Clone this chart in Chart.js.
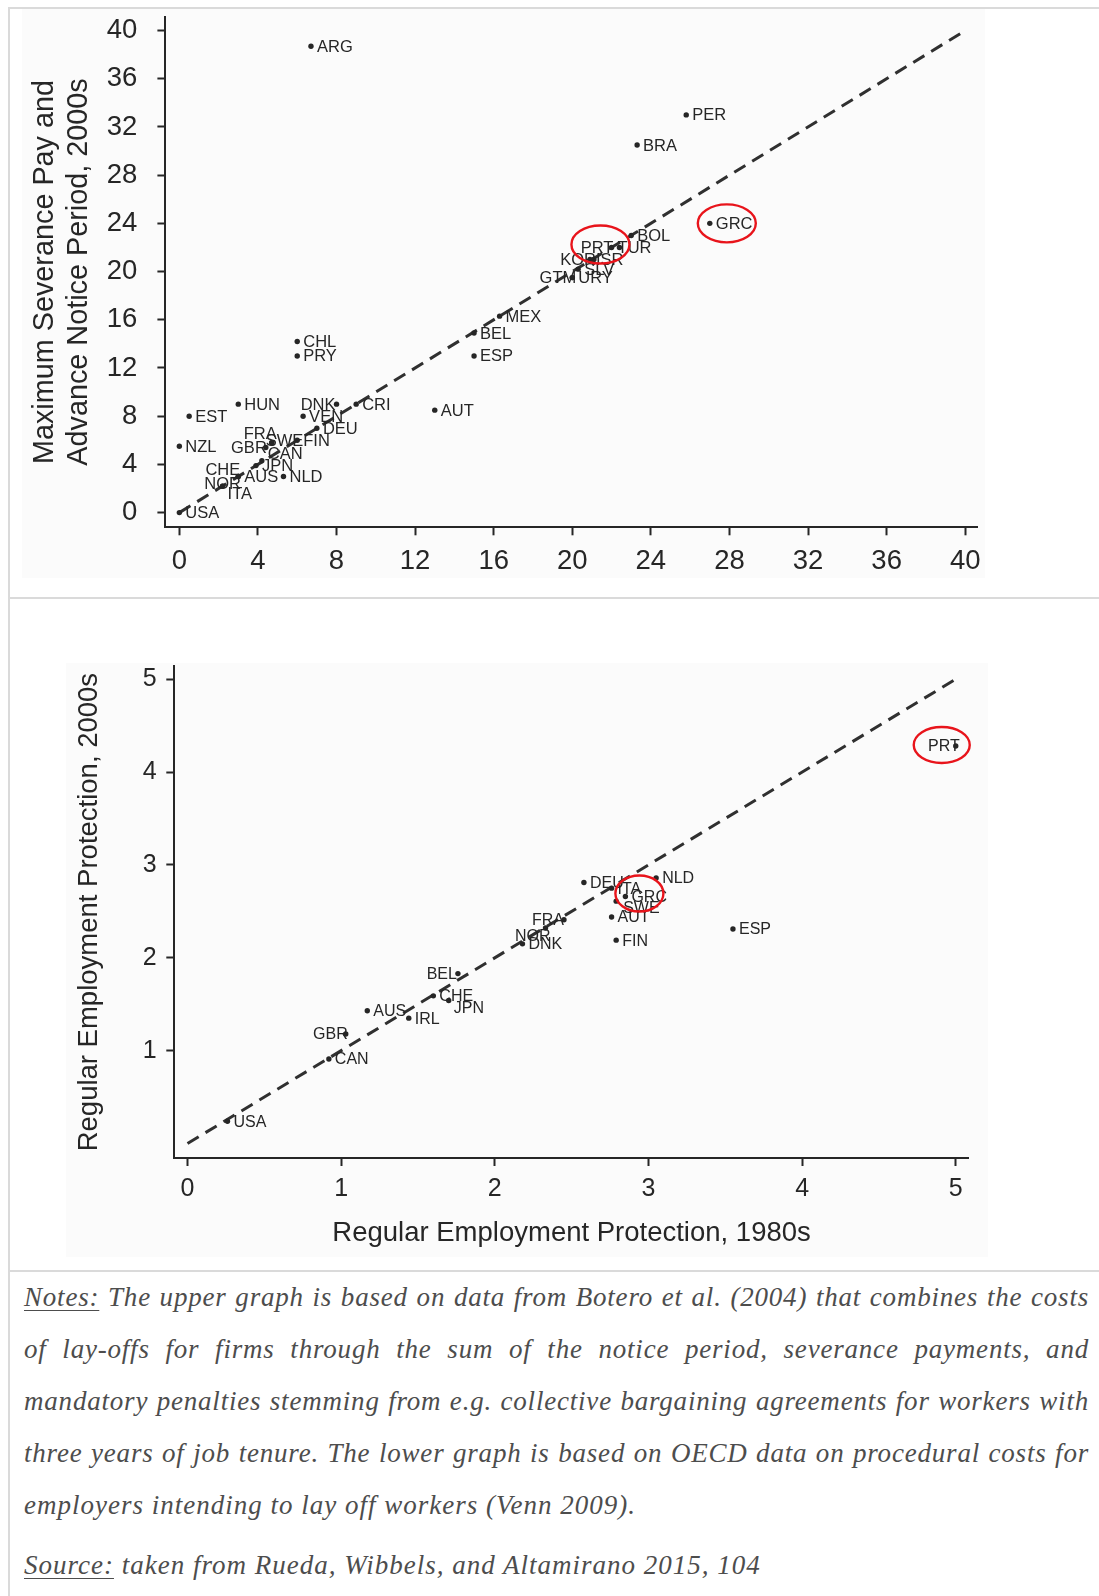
<!DOCTYPE html>
<html>
<head>
<meta charset="utf-8">
<title>Employment protection: 1980s vs 2000s</title>
<script src="https://cdn.jsdelivr.net/npm/chart.js@4.4.1/dist/chart.umd.min.js"></script>
<style>
  html, body { margin: 0; padding: 0; background: #ffffff; }
  body { width: 1099px; height: 1596px; position: relative; overflow: hidden; font-family: "Liberation Sans", Arial, sans-serif; }
  .rule { position: absolute; background: #dadada; }
  .panel { position: absolute; background: #fbfbfb; }
  canvas { position: absolute; left: 0; }
  .note { position: absolute; left: 24px; width: 1065px; height: 52px; line-height: 52px;
          font-family: "Liberation Serif", "Times New Roman", serif; font-style: italic; font-size: 27px;
          letter-spacing: 0.8px; color: #4d4d4d; text-align: justify; text-align-last: justify; white-space: nowrap; }
  .note.last { text-align-last: left; letter-spacing: 1px; }
  .note u { text-decoration-thickness: 1px; text-underline-offset: 4px; }
</style>
</head>
<body>
<div class="rule" style="left:8px; top:7px; width:1091px; height:2px;"></div>
<div class="rule" style="left:8px; top:7px; width:2px; height:1589px;"></div>
<div class="rule" style="left:8px; top:597px; width:1091px; height:2px;"></div>
<div class="rule" style="left:8px; top:1270px; width:1091px; height:2px;"></div>
<div class="panel" style="left:22px; top:9px; width:963px; height:569px;"></div>
<div class="panel" style="left:66px; top:663px; width:922px; height:594px;"></div>

<canvas id="upper" width="1099" height="598" style="top:0;"></canvas>
<canvas id="lower" width="1099" height="673" style="top:598px;"></canvas>

<div class="note" style="top:1271px;"><u>Notes:</u> The upper graph is based on data from Botero et al. (2004) that combines the costs</div>
<div class="note" style="top:1323px;">of lay-offs for firms through the sum of the notice period, severance payments, and</div>
<div class="note" style="top:1375px;">mandatory penalties stemming from e.g. collective bargaining agreements for workers with</div>
<div class="note" style="top:1427px;">three years of job tenure. The lower graph is based on OECD data on procedural costs for</div>
<div class="note last" style="top:1479px;">employers intending to lay off workers (Venn 2009).</div>
<div class="note last" style="top:1539px;"><u>Source:</u> taken from Rueda, Wibbels, and Altamirano 2015, 104</div>

<script>
// ---- Upper panel: maximum severance pay and advance notice period ----
const upperCountries = ['ARG','PER','BRA','GRC','BOL','PRT','TUR','KOR','ISR','SLV','GTM','URY',
  'MEX','BEL','ESP','CHL','PRY','HUN','EST','NZL','USA','DNK','CRI','VEN','DEU','AUT',
  'FIN','SWE','FRA','GBR','CAN','JPN','CHE','AUS','NOR','ITA','NLD'];
const upperX = [6.7, 25.8, 23.3, 27, 23, 22.4, 22, 21.1, 20.9, 20.3, 20, 20,
  16.3, 15, 15, 6, 6, 3, 0.5, 0, 0, 8, 9, 6.3, 7, 13,
  6, 4.7, 4.7, 4.4, 4.2, 3.9, 3, 3, 2.2, 2.2, 5.3];
const upperY = [38.7, 33, 30.5, 24, 23, 22, 22, 21, 21, 20.2, 19.5, 19.5,
  16.3, 14.9, 13, 14.2, 13, 9, 8, 5.5, 0, 9, 9, 8, 7, 8.5,
  6, 5.8, 5.8, 5.4, 4.3, 3.9, 3, 3, 2.2, 2.2, 3];
const upperTicks = [0, 4, 8, 12, 16, 20, 24, 28, 32, 36, 40];
const upperDiagonal = [0, 40];

// ---- Lower panel: OECD regular employment protection ----
const lowerCountries = ['USA','CAN','GBR','AUS','IRL','CHE','JPN','BEL','DNK','NOR','FRA',
  'DEU','ITA','GRC','SWE','AUT','FIN','NLD','ESP','PRT'];
const lower1980s = [0.26, 0.92, 1.03, 1.17, 1.44, 1.6, 1.7, 1.76, 2.18, 2.33, 2.45,
  2.58, 2.76, 2.85, 2.79, 2.76, 2.79, 3.05, 3.55, 5.0];
const lower2000s = [0.24, 0.91, 1.18, 1.43, 1.35, 1.59, 1.54, 1.83, 2.15, 2.32, 2.41,
  2.81, 2.75, 2.66, 2.61, 2.44, 2.19, 2.86, 2.31, 4.28];
const lowerXTicks = [0, 1, 2, 3, 4, 5];
const lowerYTicks = [1, 2, 3, 4, 5];
const lowerDiagonal = [0, 5];

// Where each country code sits relative to its marker (default: right of it)
const upperLabelSpots = {
  DNK: {dx: -1, dy: 0, align: 'right'}, GBR: {dx: 1, dy: 0, align: 'right'},
  PRT: {dx: -6, dy: 0, align: 'right'}, KOR: {dx: 2, dy: 0, align: 'right'},
  GTM: {dx: 4, dy: 0, align: 'right'},
  CHE: {dx: 2, dy: -7, align: 'right'}, FRA: {dx: 5, dy: -9, align: 'right'},
  SWE: {dx: -6, dy: -2, align: 'left'}, CAN: {dx: 6, dy: -7, align: 'left'},
  NOR: {dx: 0, dy: -3, align: 'center'}, ITA: {dx: 5, dy: 7, align: 'left'}
};
const lowerLabelSpots = {
  GBR: {dx: 2, dy: 0, align: 'right'}, BEL: {dx: -1, dy: 0, align: 'right'},
  FRA: {dx: 0, dy: 0, align: 'right'}, NOR: {dx: 5, dy: 8, align: 'right'},
  JPN: {dx: 5, dy: 7, align: 'left'}, SWE: {dx: 7, dy: 6, align: 'left'},
  PRT: {dx: 4, dy: 0, align: 'right'}
};
// Hand-drawn red rings highlighting Greece and Portugal
const upperRings = [{name: 'GRC', dx: 17, dy: 0, rx: 29, ry: 19}, {name: 'PRT', dx: -19, dy: -3, rx: 29, ry: 19}];
const lowerRings = [{name: 'GRC', dx: 14, dy: -3, rx: 24, ry: 18}, {name: 'PRT', dx: -14, dy: -1, rx: 28, ry: 18}];

const INK = '#262626';
const SANS = '"Liberation Sans", Arial, Helvetica, sans-serif';

const pointLabels = {
  id: 'pointLabels',
  afterDatasetsDraw(chart, args, opts) {
    const meta = chart.getDatasetMeta(opts.datasetIndex);
    const ctx = chart.ctx;
    ctx.save();
    ctx.font = opts.size + 'px ' + SANS;
    ctx.fillStyle = INK;
    ctx.textBaseline = 'middle';
    meta.data.forEach((pt, i) => {
      const name = opts.names[i];
      const spot = opts.spots[name] || {dx: 6, dy: 0, align: 'left'};
      ctx.textAlign = spot.align;
      ctx.fillText(name, pt.x + spot.dx, pt.y + spot.dy + 1);
    });
    ctx.restore();
  }
};

const rings = {
  id: 'rings',
  afterDraw(chart, args, opts) {
    const meta = chart.getDatasetMeta(opts.datasetIndex);
    const ctx = chart.ctx;
    ctx.save();
    ctx.strokeStyle = '#e8141b';
    ctx.lineWidth = 2.4;
    opts.marks.forEach(m => {
      const pt = meta.data[opts.names.indexOf(m.name)];
      ctx.beginPath();
      ctx.ellipse(pt.x + m.dx, pt.y + m.dy, m.rx, m.ry, 0, 0, Math.PI * 2);
      ctx.stroke();
    });
    ctx.restore();
  }
};

function fixedTicks(values) {
  return scale => { scale.ticks = values.map(v => ({value: v})); };
}

function axis(cfg) {
  return {
    type: 'linear',
    min: cfg.min, max: cfg.max,
    afterBuildTicks: fixedTicks(cfg.ticks),
    afterFit: scale => {
      if (cfg.width) scale.width = cfg.width;
      if (cfg.height) scale.height = cfg.height;
      // the plot box is set by the layout padding alone
      scale.paddingTop = scale.paddingBottom = scale.paddingLeft = scale.paddingRight = 0;
    },
    border: {display: true, color: INK, width: 2},
    grid: {drawOnChartArea: false, drawTicks: true, tickLength: 8, tickWidth: 2, tickColor: INK},
    ticks: {color: INK, font: {family: SANS, size: cfg.tickSize}, padding: cfg.pad, maxRotation: 0, autoSkip: false,
            callback: v => String(v)},
    title: cfg.title ? {display: true, text: cfg.title, color: INK,
            font: {family: SANS, size: cfg.titleSize, lineHeight: cfg.titleLH || 1.2},
            padding: cfg.titlePad} : {display: false}
  };
}

function diagonal(ends) {
  return {
    type: 'line',
    data: ends.map(v => ({x: v, y: v})),
    borderColor: '#303030', borderWidth: 3, borderDash: [13, 8],
    pointRadius: 0, fill: false, order: 2
  };
}

function scatter(names, xs, ys) {
  return {
    type: 'scatter',
    data: names.map((n, i) => ({x: xs[i], y: ys[i]})),
    pointRadius: 2.7, pointBackgroundColor: INK, pointBorderWidth: 0, order: 1
  };
}

new Chart(document.getElementById('upper'), {
  data: {datasets: [scatter(upperCountries, upperX, upperY), diagonal(upperDiagonal)]},
  plugins: [pointLabels, rings],
  options: {
    responsive: false, animation: false, devicePixelRatio: 1,
    layout: {padding: {left: 10, top: 16.7, right: 122, bottom: 10.7}},
    plugins: {
      legend: {display: false}, tooltip: {enabled: false},
      pointLabels: {datasetIndex: 0, names: upperCountries, spots: upperLabelSpots, size: 16.5},
      rings: {datasetIndex: 0, names: upperCountries, marks: upperRings}
    },
    scales: {
      x: axis({min: -0.71, max: 40.6, ticks: upperTicks, height: 60, tickSize: 27.5, pad: 10}),
      y: axis({min: -1.22, max: 41.15, ticks: upperTicks, width: 155.4, tickSize: 27.5, pad: 20,
               title: ['Maximum Severance Pay and', 'Advance Notice Period, 2000s'],
               titleSize: 28.8, titleLH: 1.2, titlePad: {top: 17.5, bottom: 0}})
    }
  }
});

new Chart(document.getElementById('lower'), {
  data: {datasets: [scatter(lowerCountries, lower1980s, lower2000s), diagonal(lowerDiagonal)]},
  plugins: [pointLabels, rings],
  options: {
    responsive: false, animation: false, devicePixelRatio: 1,
    layout: {padding: {left: 10, top: 68.2, right: 130.2, bottom: 13}},
    plugins: {
      legend: {display: false}, tooltip: {enabled: false},
      pointLabels: {datasetIndex: 0, names: lowerCountries, spots: lowerLabelSpots, size: 16},
      rings: {datasetIndex: 0, names: lowerCountries, marks: lowerRings}
    },
    scales: {
      x: axis({min: -0.086, max: 5.085, ticks: lowerXTicks, height: 100, tickSize: 25, pad: 8,
               title: 'Regular Employment Protection, 1980s', titleSize: 27.5,
               titlePad: {top: 0, bottom: 8.2}}),
      y: axis({min: -0.156, max: 5.14, ticks: lowerYTicks, width: 164.3, tickSize: 25, pad: 9.6,
               title: 'Regular Employment Protection, 2000s', titleSize: 27.5,
               titlePad: {top: 63, bottom: 0}})
    }
  }
});
</script>
</body>
</html>
